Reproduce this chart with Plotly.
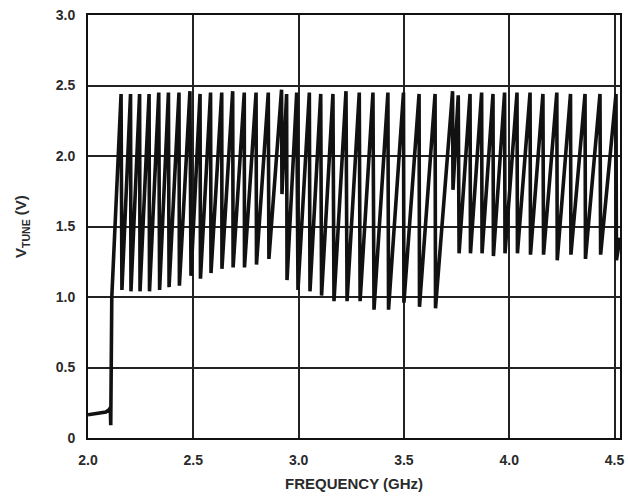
import plotly.graph_objects as go

# Low-frequency lead-in (before the first band switch)
lead_freq = [2.000, 2.030, 2.060, 2.085, 2.100, 2.106, 2.108, 2.113]
lead_vtune = [0.165, 0.170, 0.175, 0.185, 0.200, 0.215, 0.090, 1.000]

# Sawtooth: each band top (freq, V) followed by drop to bottom (freq, V)
top_freq = [2.157, 2.202, 2.245, 2.290, 2.336, 2.382, 2.432, 2.484, 2.532, 2.582,
            2.635, 2.687, 2.742, 2.798, 2.856, 2.919, 2.943, 2.991, 3.051, 3.105,
            3.163, 3.225, 3.288, 3.353, 3.424, 3.498, 3.572, 3.648, 3.731, 3.758,
            3.814, 3.869, 3.923, 3.978, 4.037, 4.099, 4.160, 4.226, 4.291, 4.360,
            4.431, 4.507]
top_vtune = [2.44, 2.44, 2.44, 2.44, 2.45, 2.45, 2.45, 2.46, 2.44, 2.45,
             2.45, 2.46, 2.45, 2.45, 2.45, 2.47, 2.44, 2.45, 2.45, 2.44,
             2.44, 2.46, 2.45, 2.45, 2.45, 2.45, 2.44, 2.44, 2.46, 2.43,
             2.44, 2.45, 2.44, 2.45, 2.45, 2.45, 2.44, 2.45, 2.44, 2.44,
             2.44, 2.44]
bot_freq = [2.161, 2.204, 2.247, 2.292, 2.340, 2.385, 2.434, 2.489, 2.534, 2.584,
            2.636, 2.689, 2.743, 2.800, 2.859, 2.921, 2.945, 2.997, 3.054, 3.109,
            3.168, 3.230, 3.292, 3.358, 3.427, 3.500, 3.574, 3.650, 3.733, 3.762,
            3.816, 3.871, 3.925, 3.980, 4.039, 4.101, 4.163, 4.228, 4.293, 4.362,
            4.434, 4.509]
bot_vtune = [1.05, 1.04, 1.04, 1.04, 1.05, 1.07, 1.08, 1.15, 1.13, 1.17,
             1.20, 1.21, 1.21, 1.23, 1.27, 1.73, 1.12, 1.05, 1.04, 1.01,
             0.97, 0.97, 0.97, 0.91, 0.91, 0.96, 0.93, 0.92, 1.76, 1.31,
             1.31, 1.31, 1.29, 1.31, 1.31, 1.30, 1.30, 1.26, 1.30, 1.27,
             1.30, 1.26]

tail_freq = [4.526]
tail_vtune = [1.42]

x_ticks = [2.0, 2.5, 3.0, 3.5, 4.0, 4.5]
x_tick_text = ["2.0", "2.5", "3.0", "3.5", "4.0", "4.5"]
y_ticks = [0, 0.5, 1.0, 1.5, 2.0, 2.5, 3.0]
y_tick_text = ["0", "0.5", "1.0", "1.5", "2.0", "2.5", "3.0"]

xs = list(lead_freq)
ys = list(lead_vtune)
for ft, vt, fb, vb in zip(top_freq, top_vtune, bot_freq, bot_vtune):
    xs += [ft, fb]
    ys += [vt, vb]
xs += tail_freq
ys += tail_vtune

fig = go.Figure()
fig.add_trace(go.Scatter(x=xs, y=ys, mode="lines",
                         line=dict(color="#111111", width=3.6),
                         showlegend=False, hoverinfo="skip"))

FAM = "Liberation Sans, Arial, sans-serif"
TXT = "#2a2a2a"

fig.update_layout(
    width=628, height=497,
    margin=dict(l=88, r=8, t=15, b=59),
    paper_bgcolor="white", plot_bgcolor="white",
    font=dict(family=FAM, size=14, color=TXT),
    showlegend=False,
)
fig.update_xaxes(
    range=[2.0, 4.526], tickvals=x_ticks, ticktext=x_tick_text,
    showgrid=True, gridcolor="#222222", gridwidth=1.6,
    showline=True, linecolor="#111111", linewidth=2, mirror=True,
    ticks="", ticklabelstandoff=8, zeroline=False, automargin=False,
    ticklabeloverflow="allow",
    tickfont=dict(family=FAM, size=14, color=TXT, weight="bold"),
    title=dict(text="<b>FREQUENCY (GHz)</b>", standoff=12,
               font=dict(family=FAM, size=15, color=TXT)),
)
fig.update_yaxes(
    range=[0, 3.0], tickvals=y_ticks, ticktext=y_tick_text,
    showgrid=True, gridcolor="#222222", gridwidth=1.6,
    showline=True, linecolor="#111111", linewidth=2, mirror=True,
    ticks="", ticklabelstandoff=8, zeroline=False, automargin=False,
    ticklabeloverflow="allow",
    tickfont=dict(family=FAM, size=14, color=TXT, weight="bold"),
    title=dict(text="<b>V<sub>TUNE</sub> (V)</b>", standoff=25,
               font=dict(family=FAM, size=15, color=TXT)),
)

fig.write_html(
    "out.html",
    config={"displayModeBar": False},
    post_script="document.body.style.margin='0';document.body.style.overflow='hidden';",
)
